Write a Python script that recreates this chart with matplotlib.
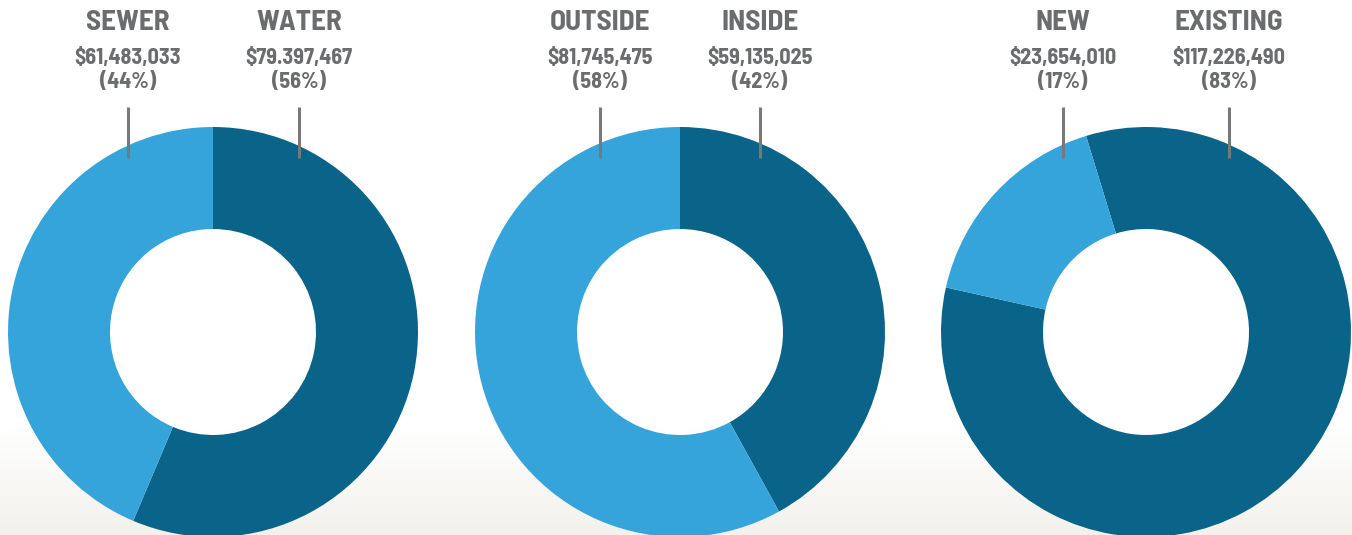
import numpy as np
import matplotlib.pyplot as plt
from matplotlib import font_manager

# Data
titles = [["SEWER", "WATER"], ["OUTSIDE", "INSIDE"], ["NEW", "EXISTING"]]
amounts = [["$61,483,033", "$79.397,467"],
           ["$81,745,475", "$59,135,025"],
           ["$23,654,010", "$117,226,490"]]
percents = [["(44%)", "(56%)"], ["(58%)", "(42%)"], ["(17%)", "(83%)"]]
# dark slice first, then light slice
dark_values = [79397467, 59135025, 117226490]
light_values = [61483033, 81745475, 23654010]

light = "#35a4db"
dark = "#0a6388"
gray = "#6b6c6e"

# pick a condensed bold face if one is installed
names = {f.name for f in font_manager.fontManager.ttflist}
fam = "DejaVu Sans"
for cand in ["Barlow Semi Condensed", "Roboto Condensed", "Archivo Narrow",
             "PT Sans Narrow", "Open Sans Condensed"]:
    if cand in names:
        fam = cand
        break

W, H = 1352, 535
fig = plt.figure(figsize=(W / 100, H / 100), dpi=100)

# background with soft gradient at the bottom
bg = fig.add_axes([0, 0, 1, 1])
yy = np.linspace(0, 1, H)
t = np.clip((yy - 0.80) / 0.20, 0, 1)
top = np.array([1.0, 1.0, 1.0])
bot = np.array([0xf2, 0xf1, 0xec]) / 255
grad = top[None, :] * (1 - t[:, None]) + bot[None, :] * t[:, None]
bg.imshow(np.repeat(grad[:, None, :], 2, axis=1), aspect="auto",
          extent=[0, W, H, 0])
bg.axis("off")

ax = fig.add_axes([0, 0, 1, 1])
ax.set_aspect("equal")

centers = [213, 680, 1146]
starts = [90, 90, 107]
cy = H - 332
r_out, r_in = 205, 103
label_x = [[128, 299], [600, 760], [1063, 1229]]

for i in range(3):
    ax.pie([dark_values[i], light_values[i]], colors=[dark, light],
           startangle=starts[i], counterclock=False,
           center=(centers[i], cy), radius=r_out, frame=True,
           wedgeprops=dict(width=r_out - r_in, linewidth=0))
    for j in range(2):
        x = label_x[i][j]
        ax.text(x, H - 23, titles[i][j], ha="center", va="center",
                fontsize=21, fontweight="bold", color=gray, family=fam)
        ax.text(x, H - 58, amounts[i][j], ha="center", va="center",
                fontsize=16, fontweight="bold", color=gray, family=fam)
        ax.text(x, H - 82, percents[i][j], ha="center", va="center",
                fontsize=16, fontweight="bold", color=gray, family=fam)
        ax.plot([x, x], [H - 107, H - 158], color="#77787a", lw=2.2,
                solid_capstyle="butt")

ax.set_xlim(0, W)
ax.set_ylim(0, H)
ax.axis("off")

fig.savefig("out.png", dpi=100)
